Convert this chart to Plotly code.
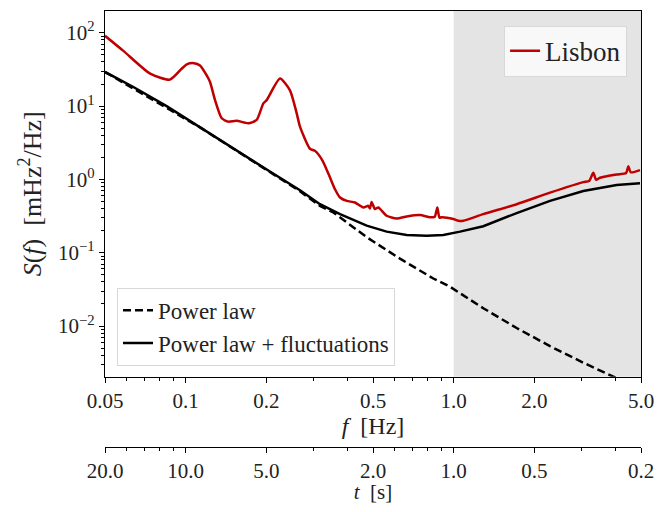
import math
import plotly.graph_objects as go

# ---------------- data ----------------
red_f = [0.05, 0.0584, 0.0737, 0.0874, 0.0966, 0.1009, 0.1074, 0.1131, 0.1198, 0.1233, 0.1287,
         0.1363, 0.1442, 0.155, 0.1713, 0.184, 0.1949, 0.2006, 0.2249, 0.245, 0.2596, 0.267,
         0.291, 0.3038, 0.324, 0.3456, 0.3607, 0.3767, 0.399, 0.4283, 0.46, 0.48, 0.487,
         0.494, 0.5085, 0.5234, 0.5623, 0.6128, 0.668, 0.749, 0.816, 0.85, 0.869, 0.885,
         0.902, 0.997, 1.041, 1.086, 1.29, 1.718, 2.288, 3.046, 3.20, 3.319, 3.40, 3.516,
         4.055, 4.40, 4.484, 4.58, 4.958]
red_s = [91, 57.1, 27.7, 23.0, 32.3, 37.0, 38.5, 35.8, 26.2, 21.3, 12.05,
         6.82, 6.14, 6.32, 5.83, 6.47, 10.9, 12.05, 23.7, 16.4, 7.96, 5.25,
         2.62, 2.45, 1.81, 1.06, 0.733, 0.566, 0.509, 0.484, 0.415, 0.436, 0.40,
         0.493, 0.394, 0.415, 0.319, 0.294, 0.313, 0.326, 0.304, 0.31, 0.415, 0.30,
         0.304, 0.288, 0.273, 0.273, 0.336, 0.459, 0.66, 0.919, 0.95, 1.23, 0.99, 1.054,
         1.168, 1.22, 1.51, 1.25, 1.34]

pl_fluct_f = [0.05, 0.0638, 0.0849, 0.1131, 0.1505, 0.2006, 0.267, 0.317, 0.3767, 0.4736,
              0.5623, 0.668, 0.793, 0.915, 1.056, 1.29, 1.718, 2.288, 3.046, 4.055, 4.958]
pl_fluct_s = [29.2, 18.2, 10.0, 5.12, 2.68, 1.365, 0.710, 0.459, 0.336, 0.234,
              0.194, 0.175, 0.171, 0.175, 0.194, 0.2296, 0.3475, 0.509, 0.695, 0.838, 0.883]

pl_f = [0.05, 0.1131, 0.267, 0.317, 0.3556, 0.4736, 0.6305, 0.8395, 0.969, 1.29,
        1.718, 2.288, 3.046, 3.94, 4.05]
pl_s = [29.2, 5.12, 0.689, 0.435, 0.355, 0.163, 0.083, 0.0445, 0.0344, 0.0175,
        0.0094, 0.00532, 0.00316, 0.00209, 0.00195]

shade_band = [1.0, 5.0]

f_ticks = [0.05, 0.1, 0.2, 0.5, 1.0, 2.0, 5.0]
f_ticktext = ["0.05", "0.1", "0.2", "0.5", "1.0", "2.0", "5.0"]
t_ticktext = ["20.0", "10.0", "5.0", "2.0", "1.0", "0.5", "0.2"]
f_minor = [0.06, 0.07, 0.08, 0.09, 0.3, 0.4, 0.6, 0.7, 0.8, 0.9, 3.0, 4.0]
y_ticks = [1e-2, 1e-1, 1e0, 1e1, 1e2]
y_ticktext = ["10<sup>\u22122</sup>", "10<sup>\u22121</sup>", "10<sup>0</sup>",
              "10<sup>1</sup>", "10<sup>2</sup>"]
y_minor = [m * 10.0 ** k for k in range(-3, 3) for m in range(2, 10)]

FONT = "Liberation Serif, Times New Roman, DejaVu Serif, serif"
RED = "#c00000"

# page body has an 8px margin: figure is sized so it fits the 668x512 window
W, H = 652, 496

fig = go.Figure()
fig.add_vrect(x0=shade_band[0], x1=shade_band[1], fillcolor="#e4e4e4",
              line_width=0, layer="below")

fig.add_trace(go.Scatter(x=pl_f, y=pl_s, mode="lines", name="Power law",
                         line=dict(color="black", width=2.5, dash="8px,4px"),
                         legend="legend2"))
fig.add_trace(go.Scatter(x=pl_fluct_f, y=pl_fluct_s, mode="lines",
                         name="Power law + fluctuations",
                         line=dict(color="black", width=2.5), legend="legend2"))
fig.add_trace(go.Scatter(x=red_f, y=red_s, mode="lines", name="Lisbon",
                         line=dict(color=RED, width=2.5, shape="spline", smoothing=0.6),
                         legend="legend"))
# helper trace so the secondary (period) axis is drawn
fig.add_trace(go.Scatter(x=f_ticks, y=[None] * len(f_ticks), xaxis="x2", yaxis="y",
                         mode="lines", showlegend=False, hoverinfo="skip"))

xr = [math.log10(f_ticks[0]), math.log10(f_ticks[-1])]
common_x = dict(type="log", range=xr, tickmode="array", tickvals=f_ticks,
                ticks="outside", ticklen=5, tickwidth=1.2, tickcolor="black",
                showline=True, linecolor="black", linewidth=1.3, showgrid=False,
                zeroline=False, tickfont=dict(family=FONT, size=21, color="#222"),
                minor=dict(tickmode="array", tickvals=f_minor, ticks="outside",
                           ticklen=3, tickwidth=1, tickcolor="black", showgrid=False))

fig.update_layout(
    width=W, height=H,
    margin=dict(l=97, r=19, t=2, b=54),
    paper_bgcolor="white", plot_bgcolor="white",
    font=dict(family=FONT, size=21, color="#222"),
    xaxis=dict(**common_x, ticktext=f_ticktext, anchor="y", mirror=True,
               title=dict(text="<i>f</i>  [Hz]", font=dict(family=FONT, size=24),
                          standoff=2)),
    xaxis2=dict(**common_x, ticktext=t_ticktext, overlaying="x", anchor="free",
                position=0, side="bottom",
                title=dict(text="<i>t</i>  [s]", font=dict(family=FONT, size=21),
                           standoff=4)),
    yaxis=dict(type="log", range=[-2.69, 2.297], domain=[0.1614, 1],
               tickmode="array", tickvals=y_ticks, ticktext=y_ticktext,
               ticks="outside", ticklen=5, tickwidth=1.2, tickcolor="black",
               showline=True, linecolor="black", linewidth=1.3, mirror=True,
               showgrid=False, zeroline=False,
               tickfont=dict(family=FONT, size=21, color="#222"),
               minor=dict(tickmode="array", tickvals=y_minor, ticks="outside",
                          ticklen=3, tickwidth=1, tickcolor="black", showgrid=False),
               title=dict(text="<i>S</i>(<i>f</i>)  [mHz<sup>2</sup>/Hz]",
                          font=dict(family=FONT, size=26), standoff=8)),
    legend=dict(x=0.974, xanchor="right", y=0.966, yanchor="top",
                bgcolor="rgba(250,250,250,0.9)", bordercolor="#d8d8d8", borderwidth=1,
                font=dict(family=FONT, size=27, color="#222")),
    legend2=dict(x=0.0224, xanchor="left", y=0.1864, yanchor="bottom",
                 bgcolor="rgba(255,255,255,0.9)", bordercolor="#d8d8d8", borderwidth=1,
                 font=dict(family=FONT, size=23, color="#222"), tracegroupgap=2),
)

fig.write_html("out.html")
